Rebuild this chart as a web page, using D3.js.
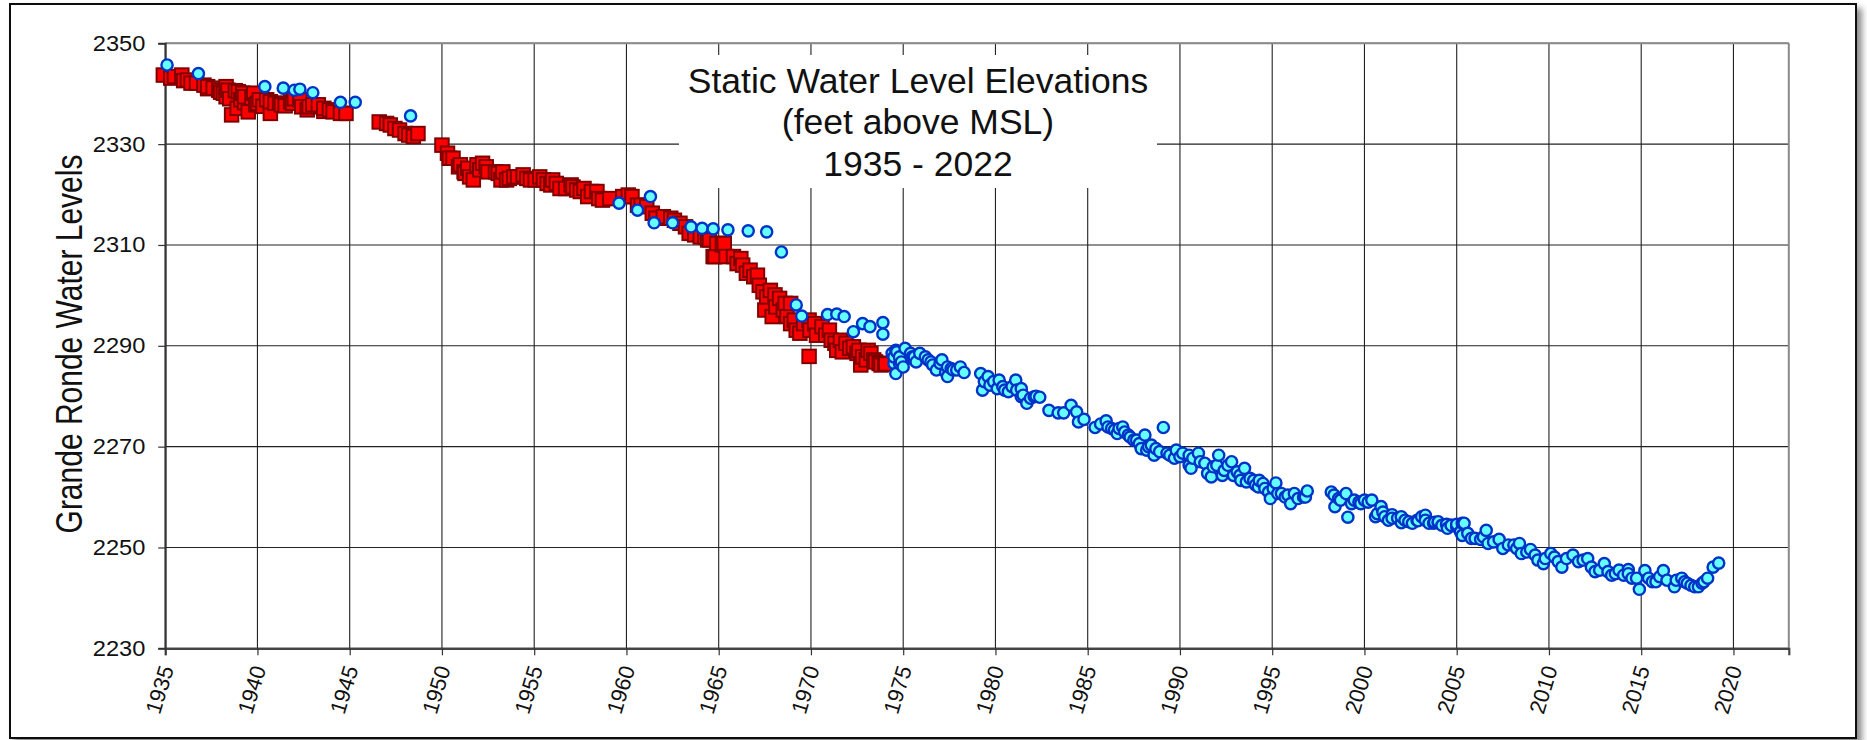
<!DOCTYPE html>
<html>
<head>
<meta charset="utf-8">
<script src="https://cdn.jsdelivr.net/npm/d3@7"></script>
<style>
  html, body { margin: 0; padding: 0; background: #fff; }
  svg { display: block; font-family: "Liberation Sans", Arial, sans-serif; }
</style>
</head>
<body>
<svg id="chart" width="1867" height="740"></svg>
<script>
// ---------- DATA ----------
const xTickYears = [1935,1940,1945,1950,1955,1960,1965,1970,1975,1980,1985,1990,1995,2000,2005,2010,2015,2020];
const yTickLevels = [2230,2250,2270,2290,2310,2330,2350];

const titleLines = ["Static Water Level Elevations", "(feet above MSL)", "1935 - 2022"];
const yAxisTitle = "Grande Ronde Water Levels";

// red squares: [year, level]
const squarePoints = [
  [1934.9,2343.7],[1935.3,2343.1],[1935.5,2343.4],[1935.9,2343.7],[1936.0,2342.6],[1936.2,2342.7],[1936.4,2342.1],[1936.7,2342.1],
  [1937.1,2341.7],[1937.3,2341.0],[1937.3,2341.4],[1937.6,2341.1],[1937.9,2340.7],[1938.0,2340.3],[1938.15,2340.1],[1938.3,2341.4],
  [1938.3,2339.4],[1938.4,2340.7],[1938.5,2339.0],[1938.6,2335.8],[1938.8,2340.6],[1938.9,2337.1],[1938.96,2340.4],[1939.1,2338.8],
  [1939.2,2340.1],[1939.3,2338.2],[1939.3,2339.4],[1939.5,2336.4],[1939.7,2339.1],[1939.8,2340.1],[1939.9,2337.8],[1940.0,2338.1],
  [1940.1,2338.8],[1940.3,2337.5],[1940.5,2338.8],[1940.7,2336.1],[1940.7,2338.4],[1940.95,2338.1],[1941.2,2338.1],[1941.3,2337.8],
  [1941.5,2337.6],[1941.8,2338.4],[1941.9,2338.1],[1942.0,2339.0],[1942.3,2338.8],[1942.4,2337.4],[1942.7,2336.8],[1942.8,2337.4],
  [1943.0,2337.8],[1943.3,2337.8],[1943.6,2336.5],[1943.6,2337.1],[1943.9,2336.8],[1944.1,2336.4],[1944.5,2336.1],[1944.8,2336.1],
  [1946.6,2334.4],[1947.0,2334.1],[1947.2,2333.8],[1947.45,2333.1],[1947.7,2332.8],[1948.0,2332.1],[1948.2,2331.8],[1948.45,2331.5],[1948.7,2332.1],
  [1950.0,2329.8],[1950.3,2328.2],[1950.4,2327.2],[1950.6,2327.2],[1950.9,2325.5],[1951.0,2325.9],[1951.2,2324.5],[1951.25,2324.2],
  [1951.4,2325.2],[1951.5,2323.5],[1951.7,2322.9],[1951.9,2325.9],[1952.05,2324.9],[1952.2,2326.2],[1952.4,2325.5],[1952.5,2324.5],
  [1952.9,2324.5],[1953.05,2324.2],[1953.2,2322.9],[1953.3,2324.5],[1953.5,2322.9],[1953.65,2323.2],[1953.9,2323.5],[1954.1,2323.5],
  [1954.4,2323.9],[1954.6,2323.2],[1954.8,2322.9],[1955.05,2322.9],[1955.3,2323.5],[1955.5,2322.9],[1955.7,2322.2],[1955.9,2321.9],
  [1956.0,2322.9],[1956.2,2322.2],[1956.4,2321.2],[1956.7,2321.2],[1957.0,2321.9],[1957.1,2321.5],[1957.3,2320.9],[1957.5,2320.6],
  [1957.7,2321.2],[1957.9,2319.6],[1958.1,2320.6],[1958.4,2320.6],[1958.5,2319.2],[1958.7,2318.9],[1959.1,2319.2],[1959.8,2319.6],
  [1960.1,2319.9],[1960.3,2319.6],[1960.6,2317.9],[1960.8,2317.9],[1961.1,2317.6],[1961.4,2316.3],[1961.6,2315.3],[1962.0,2315.6],
  [1962.4,2315.3],[1962.6,2314.9],[1962.9,2314.3],[1963.2,2313.6],[1963.4,2312.3],[1963.7,2312.0],[1964.0,2311.6],[1964.25,2311.6],
  [1964.4,2311.0],[1964.5,2311.0],[1964.7,2307.7],[1964.8,2307.7],[1964.9,2310.3],[1965.2,2310.0],[1965.3,2310.3],[1965.4,2307.7],
  [1965.8,2307.7],[1966.0,2306.3],[1966.2,2307.3],[1966.3,2306.0],[1966.5,2304.4],[1966.7,2305.0],[1966.9,2303.7],[1967.1,2304.0],
  [1967.2,2302.0],[1967.4,2300.7],[1967.5,2297.1],[1967.6,2299.7],[1967.8,2301.0],[1967.9,2295.8],[1968.05,2300.1],[1968.1,2297.7],
  [1968.3,2299.4],[1968.5,2297.1],[1968.6,2298.4],[1968.7,2295.8],[1968.9,2298.4],[1968.9,2294.4],[1969.1,2295.1],[1969.2,2293.1],
  [1969.4,2292.5],[1969.6,2294.4],[1969.9,2287.9],[1969.9,2295.1],[1969.95,2293.1],[1970.2,2294.4],[1970.3,2292.1],[1970.6,2293.8],
  [1970.8,2292.1],[1971.0,2293.1],[1971.1,2291.1],[1971.3,2290.5],[1971.4,2289.1],[1971.6,2291.1],[1971.7,2288.8],[1971.9,2290.5],
  [1972.1,2289.5],[1972.3,2289.8],[1972.5,2288.5],[1972.6,2289.1],[1972.7,2286.2],[1972.8,2287.8],[1973.0,2287.2],[1973.1,2289.1],
  [1973.25,2288.5],[1973.4,2287.2],[1973.5,2286.8],[1973.7,2286.5],[1973.8,2286.2],[1974.0,2286.5],[1974.05,2286.4]
];

// cyan circles: [year, level]
const circlePoints = [
  [1935.1,2345.7],[1936.8,2344.0],[1940.4,2341.4],[1941.4,2341.1],[1942.0,2340.7],[1942.3,2340.9],[1943.0,2340.2],[1944.5,2338.3],[1945.3,2338.3],[1948.3,2335.6],
  [1959.6,2318.3],[1960.6,2316.9],[1961.3,2319.6],[1961.5,2314.4],[1962.5,2314.4],[1963.5,2313.6],[1964.1,2313.3],[1964.7,2313.2],[1965.5,2313.0],
  [1966.6,2312.8],[1967.6,2312.6],[1968.4,2308.6],[1969.2,2298.1],[1969.5,2295.9],
  [1970.9,2296.2],[1971.4,2296.3],[1971.8,2295.8],[1972.3,2292.8],[1972.8,2294.4],[1973.2,2293.8],[1973.9,2294.6],[1973.9,2292.3],
  [1974.4,2288.5],[1974.5,2286.5],[1974.5,2287.8],[1974.6,2284.5],[1974.6,2289.1],[1974.65,2288.8],[1974.8,2286.5],[1974.8,2287.8],
  [1974.9,2286.8],[1975.0,2285.8],[1975.1,2289.5],[1975.4,2288.5],[1975.45,2287.5],[1975.5,2287.8],[1975.6,2287.8],[1975.7,2286.8],
  [1975.9,2288.5],[1976.2,2287.8],[1976.35,2287.2],[1976.5,2286.8],[1976.6,2286.2],[1976.8,2285.2],[1977.0,2286.5],[1977.1,2287.2],
  [1977.3,2284.8],[1977.4,2285.8],[1977.4,2283.9],[1977.6,2285.5],[1977.7,2285.2],[1977.9,2285.2],[1978.1,2285.8],[1978.3,2284.7],
  [1979.2,2284.5],[1979.3,2281.2],[1979.4,2282.9],[1979.6,2283.9],[1979.7,2282.2],[1979.9,2282.9],[1980.1,2281.5],[1980.2,2283.2],
  [1980.4,2281.9],[1980.5,2281.2],[1980.7,2280.9],[1980.9,2281.9],[1981.1,2283.2],[1981.15,2281.2],[1981.4,2281.5],[1981.4,2279.9],
  [1981.5,2280.2],[1981.7,2278.6],[1981.9,2279.6],[1982.1,2279.9],[1982.2,2280.0],[1982.4,2279.8],[1982.9,2277.2],[1983.4,2276.7],
  [1983.7,2276.7],[1984.1,2278.2],[1984.4,2276.9],[1984.5,2274.9],[1984.8,2275.4],
  [1985.4,2273.8],[1985.7,2274.5],[1986.0,2275.1],[1986.1,2273.9],[1986.3,2273.6],[1986.45,2273.3],[1986.6,2272.6],[1986.7,2273.6],
  [1986.9,2273.9],[1987.0,2272.9],[1987.2,2272.3],[1987.3,2271.9],[1987.5,2271.3],[1987.65,2271.3],[1987.8,2270.6],[1987.9,2269.6],
  [1988.1,2272.3],[1988.2,2269.3],[1988.3,2270.0],[1988.45,2270.3],[1988.6,2268.3],[1988.7,2269.6],[1988.9,2269.0],[1989.1,2273.8],
  [1989.3,2268.7],[1989.45,2268.3],[1989.7,2267.7],[1989.8,2269.3],
  [1990.0,2268.0],[1990.15,2268.7],[1990.5,2268.3],[1990.5,2266.3],[1990.6,2265.7],[1990.7,2267.7],[1991.0,2268.7],[1991.1,2267.0],
  [1991.35,2266.7],[1991.5,2264.7],[1991.7,2264.0],[1991.8,2266.0],[1992.0,2266.3],[1992.1,2268.3],[1992.3,2264.3],[1992.4,2265.3],
  [1992.6,2266.3],[1992.8,2267.0],[1992.9,2264.3],[1993.1,2265.0],[1993.25,2264.3],[1993.3,2263.3],[1993.5,2265.7],[1993.6,2263.0],
  [1993.8,2263.7],[1994.0,2263.3],[1994.1,2262.4],[1994.25,2262.0],[1994.3,2263.3],[1994.5,2262.7],[1994.6,2261.7],[1994.8,2261.0],
  [1994.9,2259.7],[1995.05,2261.7],[1995.2,2262.8],[1995.3,2260.7],[1995.5,2260.7],[1995.7,2260.0],[1995.85,2260.4],[1996.0,2258.7],
  [1996.2,2260.7],[1996.4,2259.7],[1996.7,2260.0],[1996.8,2260.0],[1996.9,2261.2],
  [1998.2,2261.0],[1998.35,2260.4],[1998.4,2258.1],[1998.6,2259.7],[1998.7,2259.4],[1999.0,2260.7],[1999.1,2256.0],[1999.3,2258.7],
  [1999.45,2259.4],[1999.7,2259.0],[1999.8,2258.7],
  [2000.0,2259.4],[2000.2,2259.0],[2000.4,2259.4],[2000.6,2256.1],[2000.7,2256.7],[2000.9,2258.1],[2001.0,2257.0],[2001.1,2256.1],
  [2001.3,2255.4],[2001.5,2256.5],[2001.5,2255.8],[2001.8,2255.8],[2002.0,2254.9],[2002.0,2256.1],[2002.2,2255.4],[2002.4,2255.1],
  [2002.6,2254.8],[2002.85,2255.4],[2002.9,2255.3],[2003.1,2256.1],[2003.3,2256.4],[2003.3,2255.4],[2003.5,2254.8],[2003.75,2254.8],
  [2003.8,2255.0],[2004.0,2254.9],[2004.0,2255.1],[2004.2,2254.4],[2004.45,2254.6],[2004.5,2253.8],[2004.7,2254.4],[2004.7,2254.4],
  [2005.0,2254.1],[2005.0,2254.6],[2005.2,2253.1],[2005.3,2254.8],[2005.3,2252.4],[2005.4,2254.8],[2005.6,2252.8],[2005.8,2251.8],
  [2006.0,2251.8],[2006.3,2251.6],[2006.45,2252.1],[2006.6,2253.4],[2006.7,2250.8],[2007.0,2251.1],[2007.3,2251.6],[2007.5,2249.8],
  [2007.8,2250.5],[2008.1,2250.5],[2008.25,2249.8],[2008.4,2250.8],[2008.5,2248.8],[2008.8,2249.1],[2009.0,2249.6],[2009.25,2248.5],
  [2009.4,2247.5],[2009.7,2246.8],[2009.8,2247.8],
  [2010.1,2248.8],[2010.3,2248.1],[2010.5,2247.2],[2010.7,2246.1],[2010.95,2247.8],[2011.3,2248.5],[2011.6,2247.2],[2011.85,2247.5],
  [2012.1,2247.8],[2012.3,2246.1],[2012.5,2245.2],[2012.75,2245.5],[2013.0,2246.8],[2013.2,2245.2],[2013.4,2244.5],[2013.6,2244.8],
  [2013.8,2245.5],[2014.05,2244.5],[2014.3,2245.6],[2014.3,2244.8],[2014.5,2243.9],[2014.75,2243.9],[2014.9,2241.7],
  [2015.2,2245.4],[2015.4,2243.9],[2015.6,2243.2],[2015.8,2243.2],[2016.0,2244.2],[2016.2,2245.4],[2016.4,2243.5],[2016.8,2242.2],
  [2016.9,2243.5],[2017.2,2243.9],[2017.35,2243.2],[2017.5,2242.9],[2017.7,2242.5],[2017.9,2242.2],[2018.1,2242.2],[2018.3,2242.9],
  [2018.4,2243.2],[2018.6,2243.9],[2018.9,2246.1],[2019.2,2246.9]
];

// ---------- CHART ----------
const svg = d3.select("#chart");
const plotLeft = 165.2, plotRight = 1788.8, plotTop = 43.3, plotBottom = 648.3;

const x = d3.scaleLinear().domain([1935, 2023]).range([plotLeft, plotRight]);
const y = d3.scaleLinear().domain([2230, 2350]).range([plotBottom, plotTop]);

// drop shadow filter
const defs = svg.append("defs");
const f = defs.append("filter").attr("id", "shadow").attr("x", "-5%").attr("y", "-5%").attr("width", "110%").attr("height", "115%");
f.append("feDropShadow").attr("dx", 5).attr("dy", 5).attr("stdDeviation", 3).attr("flood-color", "#000").attr("flood-opacity", 0.45);

// outer frame
svg.append("rect").attr("x", 10).attr("y", 4).attr("width", 1846).attr("height", 734)
  .attr("fill", "#fff").attr("stroke", "#111").attr("stroke-width", 2).attr("filter", "url(#shadow)");

// gridlines
const grid = svg.append("g");
grid.selectAll("line.v").data(xTickYears).join("line")
  .attr("x1", d => x(d)).attr("x2", d => x(d)).attr("y1", plotTop).attr("y2", plotBottom)
  .attr("stroke", "#222").attr("stroke-width", 1.1);
grid.selectAll("line.h").data(yTickLevels).join("line")
  .attr("x1", plotLeft).attr("x2", plotRight).attr("y1", d => y(d)).attr("y2", d => y(d))
  .attr("stroke", "#222").attr("stroke-width", 1.1);

// plot border
svg.append("line").attr("x1", plotLeft).attr("x2", plotRight).attr("y1", plotTop).attr("y2", plotTop).attr("stroke", "#8a8a8a").attr("stroke-width", 2);
svg.append("line").attr("x1", plotRight).attr("x2", plotRight).attr("y1", plotTop).attr("y2", plotBottom).attr("stroke", "#8a8a8a").attr("stroke-width", 2);

// axes
const xAxis = svg.append("g").attr("transform", `translate(0,${plotBottom})`)
  .call(d3.axisBottom(x).tickValues(xTickYears).tickSize(7).tickFormat(d3.format("d")));
xAxis.select(".domain").attr("stroke", "#444").attr("stroke-width", 2.2);
xAxis.selectAll(".tick line").attr("stroke", "#333").attr("stroke-width", 1.2);
xAxis.selectAll(".tick text")
  .attr("font-size", 22).attr("fill", "#111")
  .attr("font-family", "'Liberation Sans', Arial, sans-serif")
  .attr("text-anchor", "end")
  .attr("x", 0).attr("y", 0).attr("dy", "0.35em")
  .attr("transform", "translate(1,18) rotate(-73)");

const yAxis = svg.append("g").attr("transform", `translate(${plotLeft},0)`)
  .call(d3.axisLeft(y).tickValues(yTickLevels).tickSize(7).tickFormat(d3.format("d")));
yAxis.select(".domain").attr("stroke", "#333").attr("stroke-width", 2);
yAxis.selectAll(".tick line").attr("stroke", "#333").attr("stroke-width", 1.2);
yAxis.selectAll(".tick text")
  .attr("font-size", 21.5).attr("fill", "#111")
  .attr("font-family", "'Liberation Sans', Arial, sans-serif")
  .attr("x", -18)
  .attr("transform", "scale(1.1,1)");

// title box
const titleG = svg.append("g");
titleG.append("rect").attr("x", 679).attr("y", 55).attr("width", 478).attr("height", 133).attr("fill", "#fff");
const titleBase = [93, 134, 176];
titleG.selectAll("text").data(titleLines).join("text")
  .attr("x", 918).attr("y", (d, i) => titleBase[i])
  .attr("text-anchor", "middle").attr("font-size", 35.5).attr("fill", "#111")
  .text(d => d);

// y axis title
svg.append("text")
  .attr("transform", `translate(82,344) rotate(-90) scale(1,1.25)`)
  .attr("text-anchor", "middle").attr("font-size", 30).attr("fill", "#111")
  .text(yAxisTitle);

// data
const plotG = svg.append("g");
const side = 13.5;
plotG.selectAll("rect.sq").data(squarePoints).join("rect")
  .attr("class", "sq")
  .attr("x", d => x(d[0]) - side / 2)
  .attr("y", d => y(d[1]) - side / 2)
  .attr("width", side).attr("height", side)
  .attr("fill", "#ff0000").attr("stroke", "#800000").attr("stroke-width", 2);

plotG.selectAll("circle.ci").data(circlePoints).join("circle")
  .attr("class", "ci")
  .attr("cx", d => x(d[0]))
  .attr("cy", d => y(d[1]))
  .attr("r", 5.6)
  .attr("fill", "#66ffff").attr("stroke", "#0033c8").attr("stroke-width", 2.4);
</script>
</body>
</html>
